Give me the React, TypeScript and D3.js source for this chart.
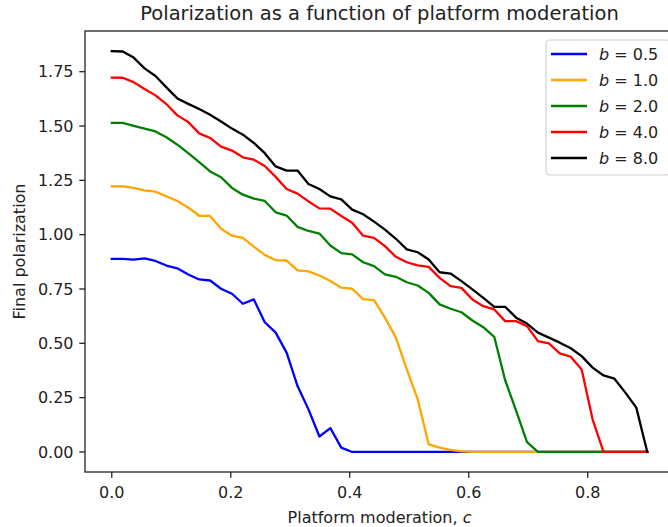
import React from "react";
import * as d3 from "d3";

const N_POINTS = 50;
const C_MAX = 0.9;
const cValues = d3.range(N_POINTS).map((i) => (i * C_MAX) / (N_POINTS - 1));

const seriesLabels = ["0.5", "1.0", "2.0", "4.0", "8.0"];
const seriesColors = ["blue", "orange", "green", "red", "black"];

const b05 = [
  0.889, 0.889, 0.885, 0.891, 0.879, 0.858, 0.845, 0.817, 0.794, 0.789,
  0.751, 0.728, 0.682, 0.702, 0.597, 0.549, 0.457, 0.303, 0.196, 0.071,
  0.11, 0.02, 0, 0, 0, 0, 0, 0, 0, 0,
  0, 0, 0, 0, 0, 0, 0, 0, 0, 0,
  0, 0, 0, 0, 0, 0, 0, 0, 0, 0,
];
const b10 = [
  1.222, 1.222, 1.215, 1.204, 1.198, 1.177, 1.155, 1.125, 1.087, 1.086,
  1.027, 0.995, 0.985, 0.945, 0.907, 0.883, 0.881, 0.836, 0.831, 0.812,
  0.787, 0.756, 0.751, 0.703, 0.699, 0.618, 0.526, 0.38, 0.242, 0.035,
  0.02, 0.01, 0.003, 0, 0, 0, 0, 0, 0, 0,
  0, 0, 0, 0, 0, 0, 0, 0, 0, 0,
];
const b20 = [
  1.514, 1.514, 1.501, 1.488, 1.475, 1.448, 1.414, 1.375, 1.334, 1.291,
  1.264, 1.215, 1.184, 1.166, 1.155, 1.103, 1.088, 1.036, 1.017, 1.005,
  0.95, 0.915, 0.909, 0.873, 0.855, 0.817, 0.806, 0.781, 0.766, 0.732,
  0.679, 0.659, 0.643, 0.605, 0.574, 0.53, 0.33, 0.19, 0.045, 0,
  0, 0, 0, 0, 0, 0, 0, 0, 0, 0,
];
const b40 = [
  1.723, 1.722, 1.702, 1.67, 1.641, 1.601, 1.549, 1.518, 1.466, 1.445,
  1.405, 1.387, 1.356, 1.345, 1.316, 1.266, 1.21, 1.189, 1.153, 1.121,
  1.12, 1.086, 1.055, 0.995, 0.985, 0.947, 0.898, 0.873, 0.859, 0.852,
  0.801, 0.763, 0.755, 0.702, 0.671, 0.656, 0.602, 0.602, 0.579, 0.51,
  0.5, 0.454, 0.438, 0.38, 0.15, 0, 0, 0, 0, 0,
];
const b80 = [
  1.845, 1.843, 1.815, 1.765, 1.73, 1.678, 1.627, 1.602, 1.578, 1.552,
  1.521, 1.488, 1.46, 1.422, 1.375, 1.314, 1.295, 1.295, 1.233, 1.21,
  1.176, 1.162, 1.115, 1.094, 1.06, 1.023, 0.981, 0.932, 0.919, 0.886,
  0.827, 0.821, 0.786, 0.748, 0.709, 0.668, 0.668, 0.618, 0.591, 0.549,
  0.526, 0.503, 0.477, 0.441, 0.388, 0.352, 0.337, 0.273, 0.204, 0,
];
const seriesValues = [b05, b10, b20, b40, b80];

const xTicks = [0.0, 0.2, 0.4, 0.6, 0.8];
const yTicks = [0.0, 0.25, 0.5, 0.75, 1.0, 1.25, 1.5, 1.75];

const TITLE = "Polarization as a function of platform moderation";
const X_LABEL = "Platform moderation, ";
const X_LABEL_VAR = "c";
const Y_LABEL = "Final polarization";

const W = 668;
const H = 527;
const left = 85;
const right = 674;
const top = 31;
const bottom = 472;
const FONT = "DejaVu Sans, sans-serif";
const TXT = "#222";

export default function App() {
  const xMin = 0;
  const xMax = d3.max(cValues) as number;
  const xPad = (xMax - xMin) * 0.05;
  const yMax = d3.max(seriesValues.flat()) as number;
  const yMin = 0;
  const yPad = (yMax - yMin) * 0.05;

  const x = d3.scaleLinear().domain([xMin - xPad, xMax + xPad]).range([left, right]);
  const y = d3.scaleLinear().domain([yMin - yPad, yMax + yPad]).range([bottom, top]);

  const line = d3
    .line<number>()
    .x((_, i) => x(cValues[i]))
    .y((d) => y(d));

  const legX = 546;
  const legY = 40;
  const legW = 124;
  const legH = 135;
  const rowH = 26;

  return (
    <svg
      width={W}
      height={H}
      style={{ position: "absolute", left: 0, top: 0, background: "white" }}
      fontFamily={FONT}
    >
      <rect x={0} y={0} width={W} height={H} fill="white" />
      <text x={(left + right) / 2} y={20} textAnchor="middle" fontSize={19.5} fill={TXT}>
        {TITLE}
      </text>

      <defs>
        <clipPath id="plotclip">
          <rect x={left} y={top} width={right - left} height={bottom - top} />
        </clipPath>
      </defs>

      <g clipPath="url(#plotclip)">
        {seriesValues.map((vals, k) => (
          <path
            key={k}
            d={line(vals) || ""}
            fill="none"
            stroke={seriesColors[k]}
            strokeWidth={2.3}
            strokeLinejoin="round"
            strokeLinecap="square"
          />
        ))}
      </g>

      {/* spines */}
      <rect
        x={left}
        y={top}
        width={right - left}
        height={bottom - top}
        fill="none"
        stroke="#222"
        strokeWidth={1.3}
      />

      {/* x ticks */}
      {xTicks.map((t) => (
        <g key={"x" + t}>
          <line x1={x(t)} x2={x(t)} y1={bottom} y2={bottom + 5.7} stroke="#222" strokeWidth={1.3} />
          <text x={x(t)} y={bottom + 26} textAnchor="middle" fontSize={16} fill={TXT}>
            {t.toFixed(1)}
          </text>
        </g>
      ))}
      {/* y ticks */}
      {yTicks.map((t) => (
        <g key={"y" + t}>
          <line x1={left - 5.7} x2={left} y1={y(t)} y2={y(t)} stroke="#222" strokeWidth={1.3} />
          <text
            x={left - 11.5}
            y={y(t)}
            dy="0.36em"
            textAnchor="end"
            fontSize={16}
            fill={TXT}
          >
            {t.toFixed(2)}
          </text>
        </g>
      ))}

      <text x={(left + right) / 2} y={523} textAnchor="middle" fontSize={16} fill={TXT}>
        {X_LABEL}
        <tspan fontStyle="italic">{X_LABEL_VAR}</tspan>
      </text>
      <text
        transform={`translate(25,${(top + bottom) / 2}) rotate(-90)`}
        textAnchor="middle"
        fontSize={16}
        fill={TXT}
      >
        {Y_LABEL}
      </text>

      {/* legend */}
      <rect
        x={legX}
        y={legY}
        width={legW}
        height={legH}
        rx={4}
        fill="white"
        fillOpacity={0.8}
        stroke="#d0d0d0"
        strokeWidth={1.2}
      />
      {seriesLabels.map((lab, k) => {
        const cy = legY + 14 + k * rowH;
        return (
          <g key={"leg" + k}>
            <line
              x1={legX + 5}
              x2={legX + 41}
              y1={cy}
              y2={cy}
              stroke={seriesColors[k]}
              strokeWidth={2.3}
            />
            <text x={legX + 53} y={cy} dy="0.36em" fontSize={16} fill={TXT}>
              <tspan fontStyle="italic">b</tspan>
              {" = " + lab}
            </text>
          </g>
        );
      })}
    </svg>
  );
}
